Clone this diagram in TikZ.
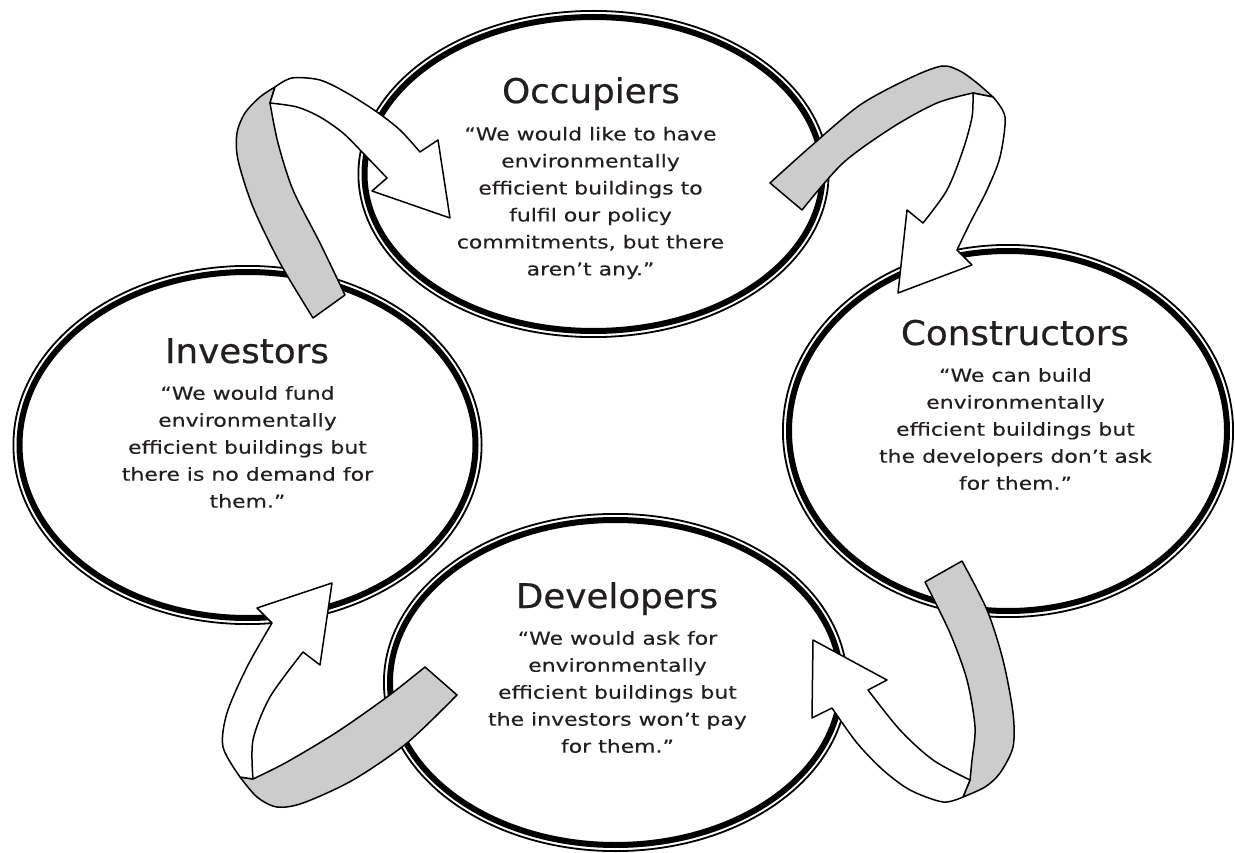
\documentclass[tikz,border=0pt]{standalone}
\usepackage{fontspec}
\usetikzlibrary{shapes.geometric}
\newfontfamily\titlefont{DejaVu Sans}[FakeStretch=1.05,FakeBold=0.6]
\newfontfamily\bodyfont{DejaVu Sans}[FakeStretch=1.22,FakeBold=0.3]
\definecolor{txt}{HTML}{231F20}
\definecolor{band}{HTML}{CCCCCC}
\begin{document}
\begin{tikzpicture}[x=1pt,y=-1pt,
  ring/.style={ellipse, fill=white, inner sep=0pt, outer sep=0pt},
  rim/.style={draw=black, line width=1.8pt},
  thickrim/.style={draw=black, line width=6pt},
  ttl/.style={font=\titlefont\fontsize{34}{40}\selectfont, text=txt, anchor=base, inner sep=0pt},
  quote/.style={font=\bodyfont\fontsize{18}{27}\selectfont, text=txt, align=center, inner sep=0pt},
  front/.style={fill=white, draw=black, line width=1.5pt, line join=round},
  back/.style={fill=band, draw=black, line width=1.5pt, line join=round}]
\useasboundingbox (0,0) rectangle (1235,853);

% ellipses
\node[ring, minimum width=472pt, minimum height=328pt] (occ) at (593.5,174) {};
\node[ring, minimum width=470pt, minimum height=360pt] (inv) at (247.5,445) {};
\node[ring, minimum width=452pt, minimum height=374pt] (con) at (1008,431) {};
\node[ring, minimum width=465pt, minimum height=339pt] (dev) at (615.5,682.5) {};
\foreach \n/\a/\b in {occ/236/164, inv/235/180, con/226/187, dev/232.5/169.5}{
  \draw[rim] (\n.center) ellipse [x radius=\a pt-0.9pt, y radius=\b pt-0.9pt];
  \draw[thickrim] (\n.center) ellipse [x radius=\a pt-7pt, y radius=\b pt-7pt];
}

% texts
\node[ttl] (occT) at (591,103) {Occupiers};
\node[quote] (occQ) at (590.5,203) {“We would like to have\\environmentally\\efficient buildings to\\fulfil our policy\\commitments, but there\\aren’t any.”};
\node[ttl] (invT) at (247,363) {Investors};
\node[quote] (invQ) at (247.5,447) {“We would fund\\environmentally\\efficient buildings but\\there is no demand for\\them.”};
\node[ttl] (conT) at (1015,345) {Constructors};
\node[quote] (conQ) at (1015.5,429) {“We can build\\environmentally\\efficient buildings but\\the developers don’t ask\\for them.”};
\node[ttl] (devT) at (617,608) {Developers};
\node[quote] (devQ) at (617.5,692) {“We would ask for\\environmentally\\efficient buildings but\\the investors won’t pay\\for them.”};

% arrow 1: investors -> occupiers
\draw[back] (313,318) -- (345,295) -- plot[smooth] coordinates {(345,295) (320,243) (293,190) (278,143) (270,103)} -- (275,87) -- plot[smooth] coordinates {(275,87) (260,97) (245,113) (237,133) (238,160) (253,207) (280,263) (313,318)} -- cycle;
\draw[front] (270,103) -- (275,87) -- plot[smooth] coordinates {(275,87) (292,78) (320,80) (347,93) (377,112) (400,130) (420,152)} -- (438,140) -- (450,218) -- (372,191) -- plot[smooth] coordinates {(387,178) (363,153) (343,133) (320,117) (297,107) (270,103)} -- cycle;

% arrow 2: occupiers -> constructors
\draw[back] (770,183) -- plot[smooth] coordinates {(770,183) (810,147) (860,105) (910,78) (942,66) (960,71) (977,83) (993,97)} -- (973,93) -- plot[smooth] coordinates {(973,93) (937,103) (893,127) (843,163) (802,210)} -- cycle;
\draw[front] (973,93) -- (993,97) -- plot[smooth] coordinates {(993,97) (1005,117) (1000,157) (987,190) (970,223) (957,250)} -- (972,265) -- (898,293) -- (907,210) -- plot[smooth] coordinates {(923,223) (947,190) (963,150) (972,117) (973,93)} -- cycle;

% arrow 3: constructors -> developers
\draw[back] (925,582) -- (962,561) -- plot[smooth] coordinates {(962,561) (987,610) (1003,660) (1013,713) (1013,747) (1000,773) (985,787) (963,797)} -- (970,780) -- plot[smooth] coordinates {(970,780) (972,760) (975,727) (967,680) (950,633) (925,582)} -- cycle;
\draw[front] (970,780) -- (963,797) -- plot[smooth] coordinates {(963,797) (943,802) (910,790) (883,770) (857,743) (832,708)} -- (812,718) -- (813,640) -- (887,680) -- plot[smooth] coordinates {(868,690) (900,730) (933,760) (970,780)} -- cycle;

% arrow 4: developers -> investors
\draw[back] (425,667) -- (457,695) -- plot[smooth] coordinates {(457,695) (407,743) (353,780) (303,803) (277,807) (257,797) (240,777)} -- (253,779) -- plot[smooth] coordinates {(253,779) (287,762) (337,732) (387,697) (425,667)} -- cycle;
\draw[front] (240,777) -- (253,779) -- plot[smooth] coordinates {(253,779) (253,740) (270,697) (303,652)} -- (320,665) -- (332,583) -- (257,608) -- plot[smooth] coordinates {(272,623) (247,667) (227,713) (223,747) (240,777)} -- cycle;
\end{tikzpicture}
\end{document}
